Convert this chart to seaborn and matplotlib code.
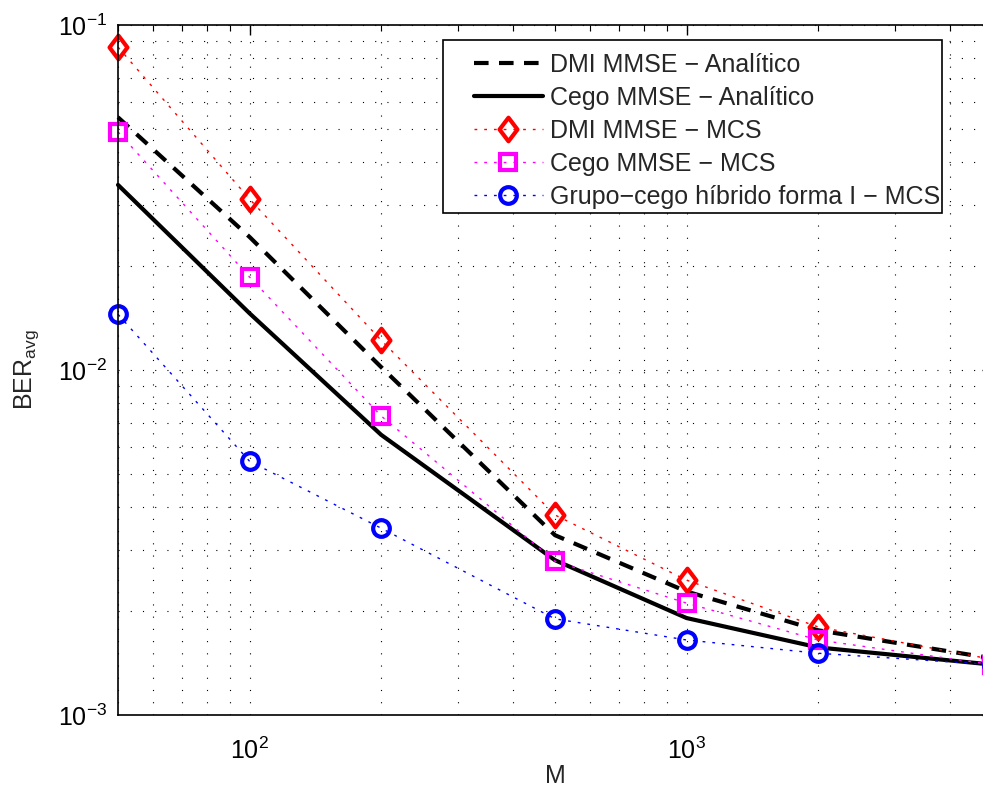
import numpy as np
import pandas as pd
import matplotlib
matplotlib.use("Agg")
import matplotlib.pyplot as plt
import seaborn as sns
from matplotlib.ticker import LogLocator, NullFormatter
from matplotlib.path import Path
from matplotlib.patches import Rectangle

# ---- data ----
M = [50, 100, 200, 500, 1000, 2000, 5000]
dmi_analitico = [0.054, 0.0243, 0.0102, 0.00332, 0.00228, 0.00176, 0.00146]
cego_analitico = [0.0344, 0.0146, 0.00649, 0.00281, 0.00191, 0.00157, 0.0014]
dmi_mcs = [0.0863, 0.0313, 0.0122, 0.0038, 0.00246, 0.0018, 0.00145]
cego_mcs = [0.049, 0.0186, 0.00736, 0.00279, 0.00211, 0.00165, 0.0014]
hibrido_mcs = [0.0145, 0.00544, 0.00348, 0.0019, 0.00165, 0.00151, 0.0014]

labels = ["DMI MMSE \u2212 Analítico", "Cego MMSE \u2212 Analítico",
          "DMI MMSE \u2212 MCS", "Cego MMSE \u2212 MCS",
          "Grupo\u2212cego híbrido forma I \u2212 MCS"]
series = [dmi_analitico, cego_analitico, dmi_mcs, cego_mcs, hibrido_mcs]

df = pd.DataFrame({
    "M": M * len(series),
    "BER": sum(series, []),
    "serie": sum([[l] * len(M) for l in labels], []),
})

sns.set_style("white")
plt.rcParams["font.family"] = ["Liberation Sans", "DejaVu Sans"]
plt.rcParams["mathtext.fontset"] = "custom"
plt.rcParams["mathtext.rm"] = "Liberation Sans"
plt.rcParams["mathtext.it"] = "Liberation Sans"
plt.rcParams["mathtext.default"] = "regular"

FS = 18

fig = plt.figure(figsize=(9.83, 7.91), dpi=100)
ax = fig.add_axes([118 / 983, 1 - 715 / 791, 874 / 983, 690 / 791])

diamond = Path([(0, 1), (0.76, 0), (0, -1), (-0.76, 0), (0, 1)],
               [Path.MOVETO, Path.LINETO, Path.LINETO, Path.LINETO, Path.CLOSEPOLY])

styles = [
    dict(color="black", lw=3.0, dashes=(3.5, 2.5), marker=None),
    dict(color="black", lw=3.0, ls="-", marker=None),
    dict(color="red", lw=1.0, dashes=(2, 5), marker=diamond, ms=17),
    dict(color="magenta", lw=1.0, dashes=(2, 5), marker="s", ms=11),
    dict(color="blue", lw=1.0, dashes=(2, 5), marker="o", ms=12),
]

for lab, st in zip(labels, styles):
    sub = df[df["serie"] == lab]
    kw = dict(color=st["color"], linewidth=st["lw"])
    if "dashes" in st:
        kw["dashes"] = st["dashes"]
    else:
        kw["linestyle"] = st["ls"]
    if st["marker"] is not None:
        kw.update(marker=st["marker"], markersize=st["ms"], markerfacecolor="none",
                  markeredgecolor=st["color"], markeredgewidth=3.0)
    sns.lineplot(data=sub, x="M", y="BER", ax=ax, label=lab, **kw)

for line in ax.get_lines():
    line.set_clip_on(False)

ax.set_xscale("log")
ax.set_yscale("log")
ax.set_xlim(50, 5000)
ax.set_ylim(1e-3, 1e-1)

ax.xaxis.set_minor_locator(LogLocator(base=10, subs=np.arange(2, 10)))
ax.yaxis.set_minor_locator(LogLocator(base=10, subs=np.arange(2, 10)))
ax.xaxis.set_minor_formatter(NullFormatter())
ax.yaxis.set_minor_formatter(NullFormatter())

ax.grid(True, which="both", color="black", linestyle=(0, (1, 10)), linewidth=0.8)
ax.tick_params(which="both", direction="in", top=True, right=True, labelsize=FS, colors="black")
ax.tick_params(axis="x", which="major", pad=16)
ax.tick_params(axis="y", which="major", pad=8)
ax.tick_params(which="major", length=7, width=1)
ax.tick_params(which="minor", length=4, width=0.8)
for sp in ax.spines.values():
    sp.set_visible(True)
    sp.set_color("black")
    sp.set_linewidth(1.2)

ax.set_xlabel("M", fontsize=FS, labelpad=0)
ax.set_ylabel(r"BER$_{\mathrm{avg}}$", fontsize=FS, labelpad=12)

# legend box (frame drawn separately to match the wider left padding)
x0, x1 = (443 - 118) / 874, (942 - 118) / 874
y1, y0 = 1 - (40 - 25) / 690, 1 - (213 - 25) / 690
frame = Rectangle((x0, y0), x1 - x0, y1 - y0, transform=ax.transAxes,
                  facecolor="white", edgecolor="black", linewidth=1.2, zorder=4)
ax.add_patch(frame)

leg = ax.legend(loc="upper right", bbox_to_anchor=(x1 + 0.004, y1 - 0.011),
                fontsize=FS, frameon=False,
                handlelength=2.75, handletextpad=0.3, borderpad=0.2, labelspacing=0.36,
                borderaxespad=0)
leg.set_zorder(5)

fig.savefig("out.png", dpi=100)
